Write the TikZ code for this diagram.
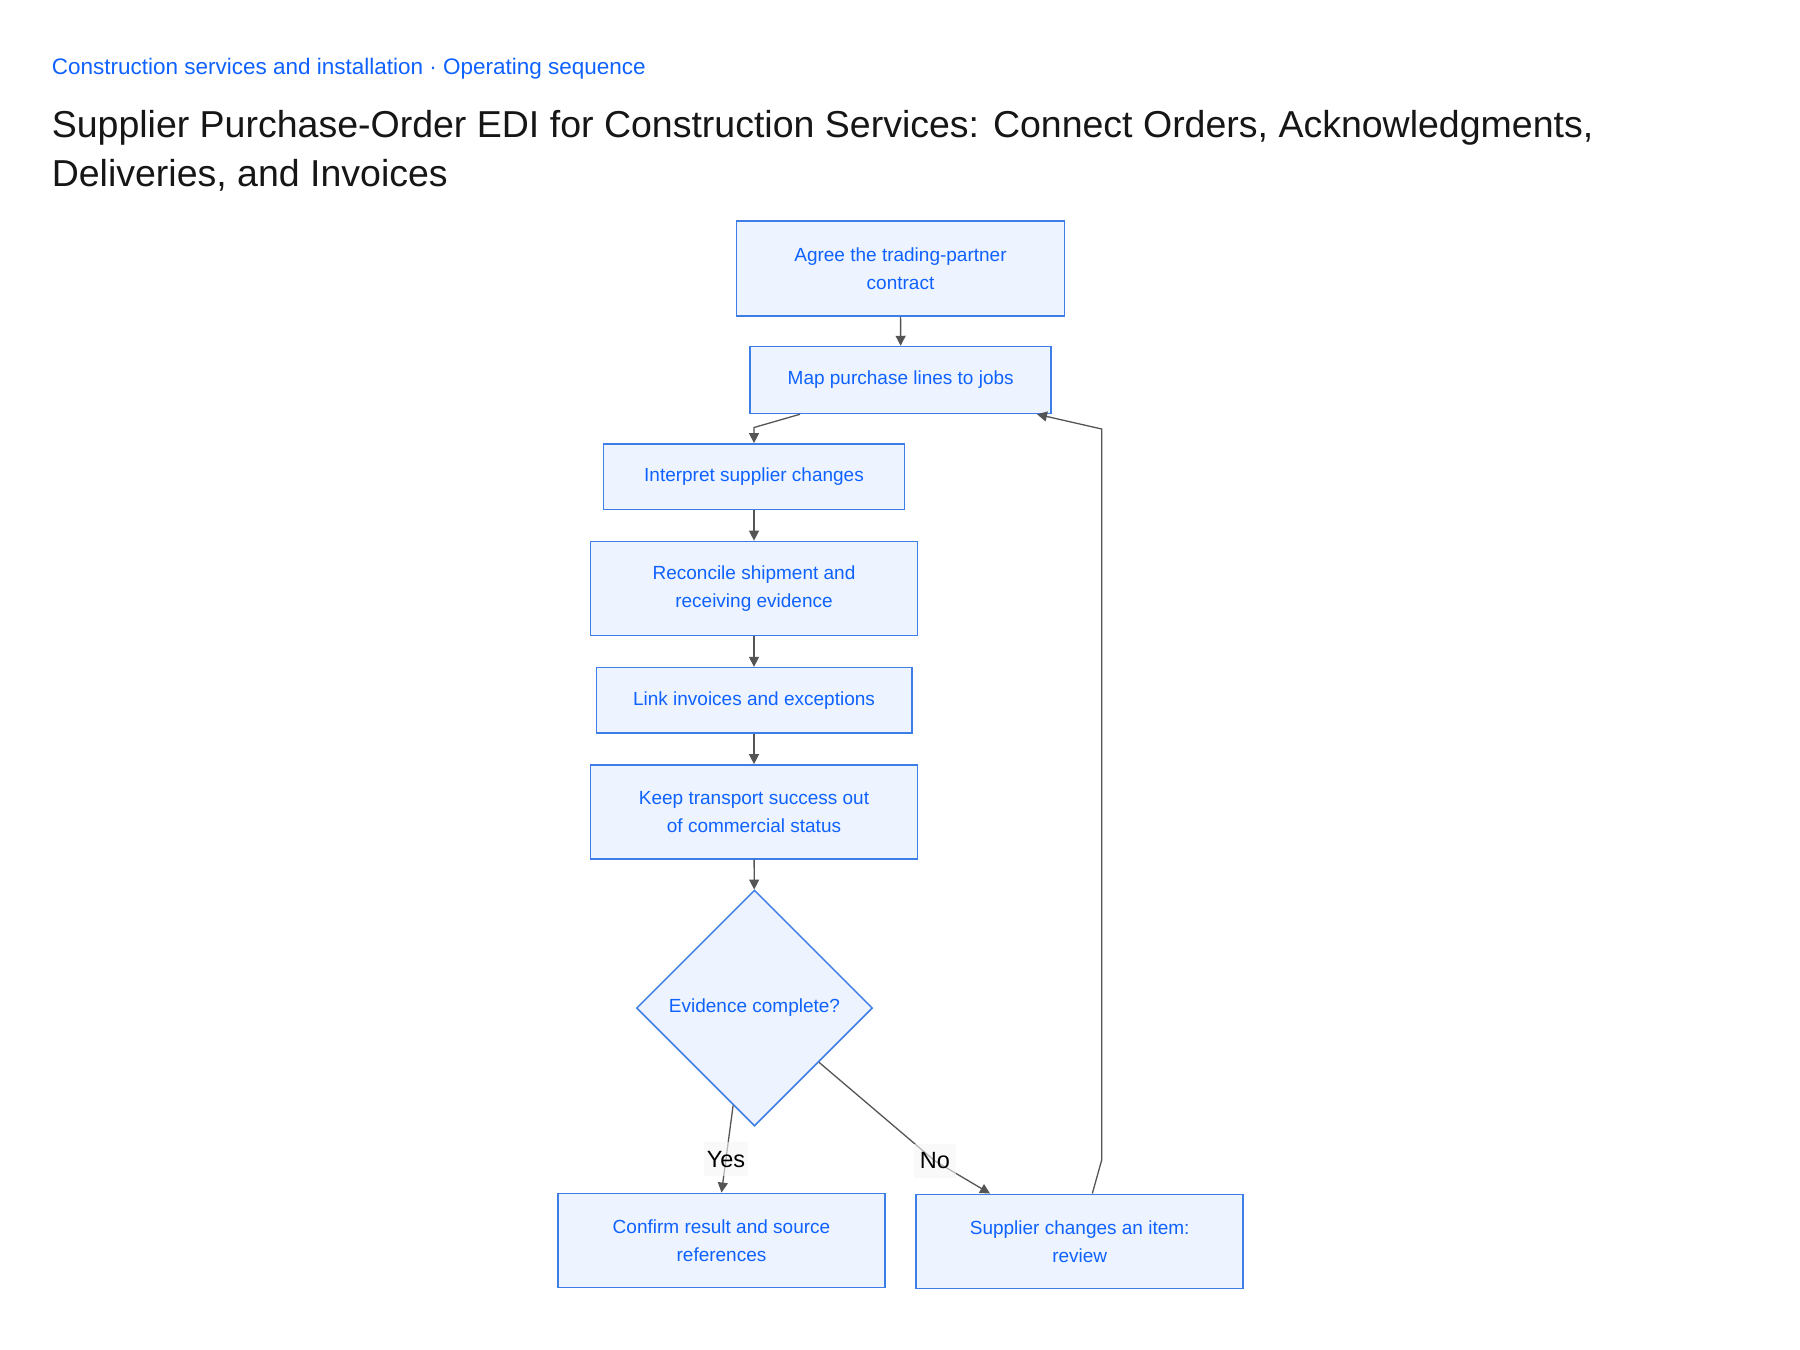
\documentclass[tikz,border=0pt]{standalone}
\usepackage{fontspec}
\setmainfont{Liberation Sans}
\usetikzlibrary{calc}
\usetikzlibrary{arrows.meta}
\usetikzlibrary{shapes.geometric}
\definecolor{stepblue}{HTML}{0F62FE}
\definecolor{stepedge}{HTML}{3D7EE6}
\definecolor{stepfill}{HTML}{EDF4FF}
\definecolor{wiregray}{HTML}{555555}
\definecolor{titleink}{HTML}{161616}
\tikzset{
  stepnode/.style={draw=stepedge, fill=stepfill, line width=1.5pt, text=stepblue, align=center, inner sep=0pt, font=\fontsize{19}{28}\selectfont},
  decide/.style={stepnode, shape=diamond, aspect=1},
  wire/.style={draw=wiregray, line width=1.3pt, -{Triangle[length=10pt,width=10pt]}},
  edgelbl/.style={fill=black!4, fill opacity=0.6, text opacity=1, text=black, inner sep=3pt, minimum width=42pt, minimum height=34pt, font=\fontsize{23.5}{23.5}\selectfont}
}
\newcommand{\stepbox}[6]{\node[stepnode, minimum width=#4pt, minimum height=#5pt] (#1) at ( #2 , #3 ) {#6};}

\begin{document}
\begin{tikzpicture}[x=1pt,y=-1pt]
                \fill[white] (0,0) rectangle (1800,1350);
                % heading
                \node[anchor=base west, inner sep=0pt, text=stepblue, font=\fontsize{22.5}{22.5}\selectfont] (kicker) at (51.6,74) {Construction services and installation · Operating sequence};
                \node[anchor=base west, inner sep=0pt, text=titleink, font=\fontsize{37.5}{37.5}\selectfont] (title) at (51.6,137) {Supplier Purchase-Order EDI for Construction Services: Connect Orders, Acknowledgments,};
                \node[anchor=base west, inner sep=0pt, text=titleink, font=\fontsize{37.5}{37.5}\selectfont] (titlecont) at (51.6,186) {Deliveries, and Invoices};

                % main column
                \stepbox{agree}{900.5}{268.7}{328}{95}{Agree the trading-partner\\contract}
                \stepbox{map}{900.7}{380}{301}{67}{Map purchase lines to jobs}
                \stepbox{interp}{754}{476.6}{301}{65.5}{Interpret supplier changes}
                \stepbox{recon}{754}{588.4}{327}{94}{Reconcile shipment and\\receiving evidence}
                \stepbox{link}{754}{700.3}{315.5}{65.4}{Link invoices and exceptions}
                \stepbox{keep}{754}{811.9}{327}{94}{Keep transport success out\\of commercial status}
                \node[decide, minimum width=236pt, minimum height=236pt] (check) at (754.5,1008) {Evidence complete?};

                % outcomes
                \stepbox{confirm}{721.5}{1240.5}{327}{94.4}{Confirm result and source\\references}
                \stepbox{review}{1079.7}{1241.5}{327}{94.4}{Supplier changes an item:\\review}

                \coordinate (noturn) at (935,1161);
                \coordinate (backlow) at (1101.7,1160);
                \coordinate (backtop) at (1101.7,429);

                \draw[wire] (agree) -- (map);
                \draw[wire] ([xshift=-100.7pt]map.south) -- ([yshift=15.6pt]interp.north) -- (interp.north);
                \draw[wire] (interp) -- (recon);
                \draw[wire] (recon) -- (link);
                \draw[wire] (link) -- (keep);
                \draw[wire] (keep) -- (check);
                \draw[wire] ($(check.south)!0.18!(check.west)$) -- node[edgelbl, pos=0.62] (yeslbl) {Yes} (confirm.north);
                \draw[wire] ($(check.east)!0.457!(check.south)$) -- (noturn) node[edgelbl] (nolbl) {No} -- ([xshift=-89.7pt]review.north);
                \draw[wire] ([xshift=12.6pt]review.north) -- (backlow) -- (backtop) -- ([xshift=136.3pt]map.south);
\end{tikzpicture}
\end{document}
